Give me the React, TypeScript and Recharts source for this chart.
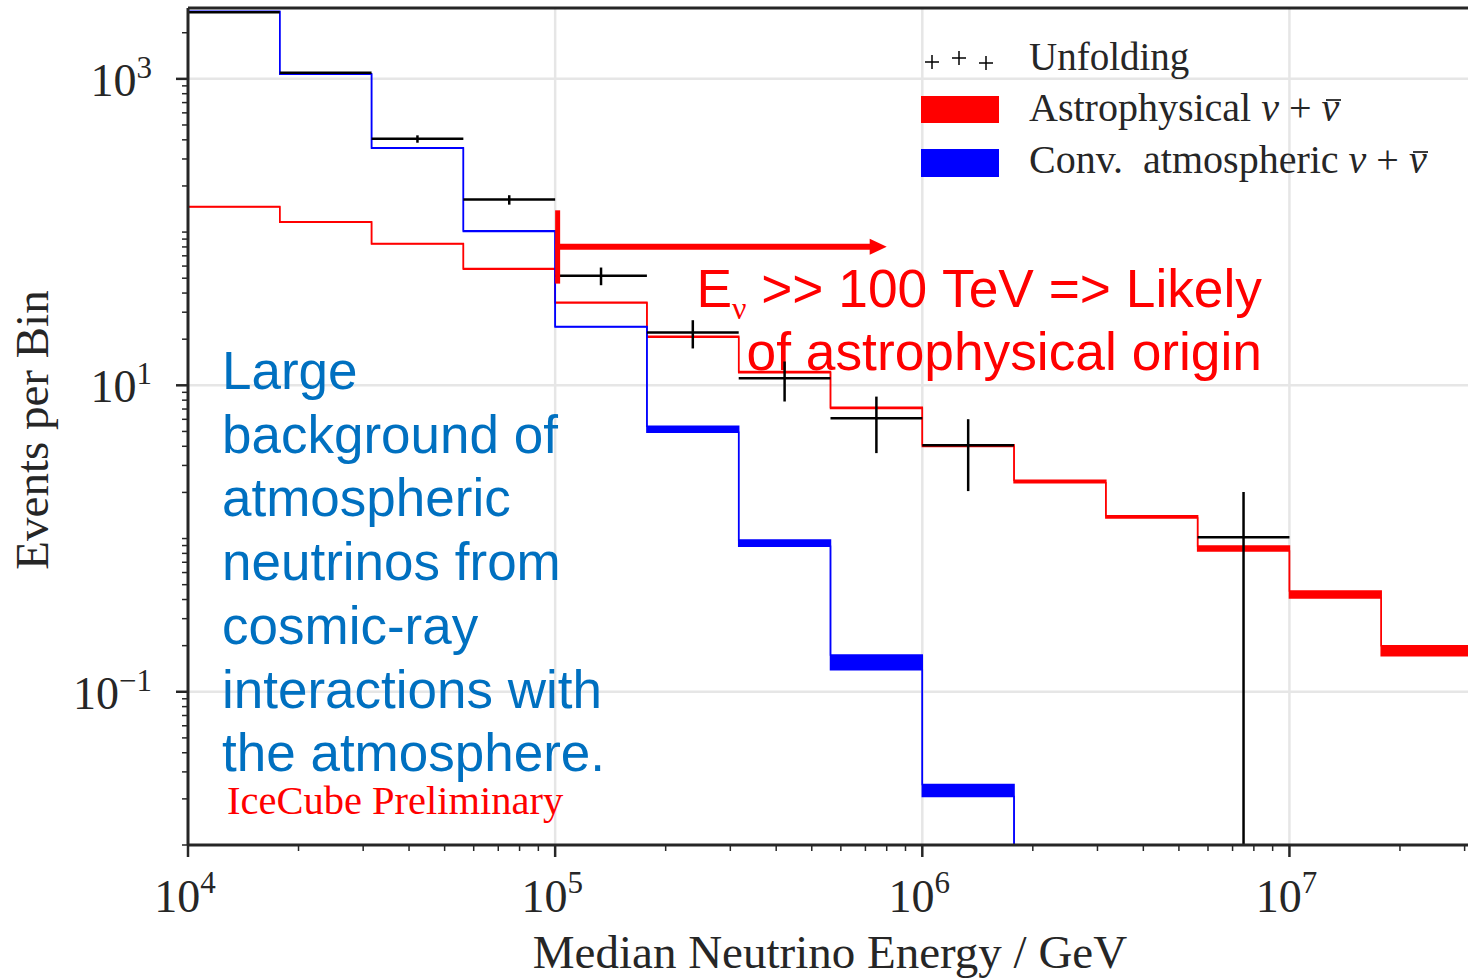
import React from 'react';
import {
  ComposedChart,
  Area,
  Scatter,
  ErrorBar,
  XAxis,
  YAxis,
  CartesianGrid,
  ReferenceLine,
} from 'recharts';

// ---------- data ----------
const binEdges = [
  1.0e4, 1.778e4, 3.162e4, 5.623e4, 1.0e5, 1.778e5, 3.162e5, 5.623e5, 1.0e6,
  1.778e6, 3.162e6, 5.623e6, 1.0e7, 1.778e7, 3.162e7,
];

// Astrophysical nu + nubar (band low / high per bin)
const astroLow = [146, 116, 83.5, 57.3, 34.4, 20.6, 12.1, 7.05, 3.98, 2.31, 1.36, 0.83, 0.409, 0.172];
const astroHigh = [147, 117, 84.1, 57.8, 34.8, 20.9, 12.3, 7.19, 4.1, 2.4, 1.41, 0.893, 0.455, 0.2];

// Conventional atmospheric nu + nubar (band low / high per bin)
const convLow = [2740, 1070, 352, 101, 24.0, 4.94, 0.89, 0.139, 0.0207, 0.0001, 0.0001, 0.0001, 0.0001, 0.0001];
const convHigh = [2760, 1080, 355, 102, 24.2, 5.41, 0.98, 0.174, 0.0248, 0.0001, 0.0001, 0.0001, 0.0001, 0.0001];

// Unfolding points (bin index, value, lower, upper)
const unfoldBins = [0, 1, 2, 3, 4, 5, 6, 7, 8, 11];
const unfoldValue = [2716, 1094, 406, 163, 51.9, 22.1, 11.1, 6.1, 4.06, 1.02];
const unfoldLower = [2690, 1082, 383, 151, 45.0, 17.4, 7.84, 3.61, 2.04, 0.01];
const unfoldUpper = [2745, 1108, 428, 174, 58.7, 26.6, 14.3, 8.44, 6.01, 2.01];

// Axis ticks
const xMajorTicks = [1e4, 1e5, 1e6, 1e7];
const xMajorExp = ['4', '5', '6', '7'];
const xDecades = [1e4, 1e5, 1e6, 1e7];
const yMajorTicks = [0.1, 10, 1000];
const yMajorExp = ['\u22121', '1', '3'];
const yDecades = [0.01, 0.1, 1, 10, 100, 1000];
const mantissas = [1, 2, 3, 4, 5, 6, 7, 8, 9];

const X_MIN = 1e4;
const X_MAX = 3.162e7;
const Y_MIN = 0.01;
const Y_MAX = 2900;

const xTicks: number[] = [];
xDecades.forEach((d) => mantissas.forEach((m) => {
  const v = +(m * d).toPrecision(6);
  if (v >= X_MIN && v <= X_MAX) xTicks.push(v);
}));
const yTicks: number[] = [];
yDecades.forEach((d) => mantissas.forEach((m) => {
  const v = +(m * d).toPrecision(6);
  if (v >= Y_MIN && v <= Y_MAX) yTicks.push(v);
}));

// ---------- derived series tables ----------
const stepData = (lo: number[], hi: number[]) =>
  binEdges.map((e, i) => {
    const j = Math.min(i, lo.length - 1);
    return { e, range: [lo[j], hi[j]] };
  });

const astroData = stepData(astroLow, astroHigh);
const convData = stepData(convLow, convHigh);

const unfoldData = unfoldBins.map((b, k) => {
  const lo = binEdges[b];
  const hi = binEdges[b + 1];
  const c = Math.sqrt(lo * hi);
  return {
    e: c,
    v: unfoldValue[k],
    ex: [c - lo, hi - c],
    ey: [unfoldValue[k] - unfoldLower[k], unfoldUpper[k] - unfoldValue[k]],
  };
});

// ---------- styles ----------
const AXIS = '#262626';
const SERIF = '"Liberation Serif", "DejaVu Serif", serif';
const SANS = '"Liberation Sans", Arial, sans-serif';

const XTick = (props: any) => {
  const { x, y, payload } = props;
  const idx = xMajorTicks.indexOf(payload.value);
  const major = idx >= 0;
  return (
    <g>
      <line x1={x} x2={x} y1={y} y2={y + (major ? 12 : 6)} stroke={AXIS} strokeWidth={major ? 2.5 : 1.5} />
      {major && (
        <text x={x - 3} y={y + 67} textAnchor="middle" fontFamily={SERIF} fontSize={46} fill={AXIS}>
          10<tspan fontSize={31} dy={-19}>{xMajorExp[idx]}</tspan>
        </text>
      )}
    </g>
  );
};

const YTick = (props: any) => {
  const { x, y, payload } = props;
  const idx = yMajorTicks.indexOf(payload.value);
  const major = idx >= 0;
  return (
    <g>
      <line x1={x - (major ? 12 : 6)} x2={x} y1={y} y2={y} stroke={AXIS} strokeWidth={major ? 2.5 : 1.5} />
      {major && (
        <text x={x - 36} y={y + 17} textAnchor="end" fontFamily={SERIF} fontSize={46} fill={AXIS}>
          10<tspan fontSize={31} dy={-18}>{yMajorExp[idx]}</tspan>
        </text>
      )}
    </g>
  );
};

const ArrowShape = (p: any) => {
  const { x1, y1, x2, y2 } = p;
  return (
    <g>
      <line x1={x1} y1={y1} x2={x2 - 14} y2={y2} stroke="#FF0000" strokeWidth={6} />
      <polygon points={`${x2},${y2} ${x2 - 17},${y2 - 8} ${x2 - 17},${y2 + 8}`} fill="#FF0000" />
    </g>
  );
};

const BarShape = (p: any) => {
  const { x1, y1, x2, y2 } = p;
  return <line x1={x1 + 2.5} y1={y1} x2={x2 + 2.5} y2={y2} stroke="#FF0000" strokeWidth={5} />;
};

const blueLines = [
  'Large',
  'background of',
  'atmospheric',
  'neutrinos from',
  'cosmic-ray',
  'interactions with',
  'the atmosphere.',
];

const Cross = ({ cx, cy }: { cx: number; cy: number }) => (
  <g stroke="#000" strokeWidth={1.5}>
    <line x1={cx - 7} x2={cx + 7} y1={cy} y2={cy} />
    <line x1={cx} x2={cx} y1={cy - 7} y2={cy + 7} />
  </g>
);

export default function App() {
  return (
    <div style={{ position: 'absolute', left: 0, top: 0, width: 1468, height: 979, overflow: 'hidden', background: '#fff' }}>
      <ComposedChart width={1473} height={979} margin={{ top: 8, right: 0, bottom: 0, left: 0 }}>
        <CartesianGrid
          horizontalValues={yMajorTicks}
          verticalValues={[1e5, 1e6, 1e7]}
          stroke="#E6E6E6"
          strokeWidth={2.5}
        />
        <XAxis
          dataKey="e"
          type="number"
          scale="log"
          domain={[X_MIN, X_MAX]}
          allowDataOverflow
          ticks={xTicks}
          interval={0}
          tick={<XTick />}
          tickLine={false}
          tickSize={0}
          tickMargin={0}
          height={134}
          axisLine={{ stroke: AXIS, strokeWidth: 3 }}
        />
        <YAxis
          type="number"
          scale="log"
          domain={[Y_MIN, Y_MAX]}
          allowDataOverflow
          ticks={yTicks}
          interval={0}
          tick={<YTick />}
          tickLine={false}
          tickSize={0}
          tickMargin={0}
          width={188}
          axisLine={{ stroke: AXIS, strokeWidth: 3 }}
        />
        <ReferenceLine y={Y_MAX} stroke={AXIS} strokeWidth={3} />
        <Area
          data={astroData}
          dataKey="range"
          type="stepAfter"
          stroke="#FF0000"
          strokeWidth={1.5}
          fill="#FF0000"
          fillOpacity={1}
          isAnimationActive={false}
          dot={false}
          activeDot={false}
        />
        <Area
          data={convData}
          dataKey="range"
          type="stepAfter"
          stroke="#0000FF"
          strokeWidth={1.5}
          fill="#0000FF"
          fillOpacity={1}
          isAnimationActive={false}
          dot={false}
          activeDot={false}
        />
        <Scatter data={unfoldData} dataKey="v" isAnimationActive={false} shape={() => <g />}>
          <ErrorBar dataKey="ex" direction="x" width={0} stroke="#000" strokeWidth={2.5} isAnimationActive={false} />
          <ErrorBar dataKey="ey" direction="y" width={0} stroke="#000" strokeWidth={2.5} isAnimationActive={false} />
        </Scatter>
        <ReferenceLine
          segment={[{ x: 1e5, y: 46.1 }, { x: 1e5, y: 138.7 }]}
          stroke="#FF0000"
          shape={BarShape}
        />
        <ReferenceLine
          segment={[{ x: 1e5, y: 80.2 }, { x: 8.0e5, y: 80.2 }]}
          stroke="#FF0000"
          shape={ArrowShape}
        />

        {/* axis labels */}
        <text x={830} y={968} textAnchor="middle" fontFamily={SERIF} fontSize={47} fill={AXIS}>
          Median Neutrino Energy / GeV
        </text>
        <text
          x={48}
          y={430}
          textAnchor="middle"
          transform="rotate(-90 48 430)"
          fontFamily={SERIF}
          fontSize={47}
          fill={AXIS}
        >
          Events per Bin
        </text>

        {/* legend */}
        <Cross cx={932} cy={62} />
        <Cross cx={959} cy={58} />
        <Cross cx={986} cy={63} />
        <text x={1029} y={70} fontFamily={SERIF} fontSize={39} fill={AXIS}>Unfolding</text>
        <rect x={921} y={96} width={78} height={27} fill="#FF0000" />
        <text x={1029} y={121} fontFamily={SERIF} fontSize={40} fill={AXIS}>
          Astrophysical <tspan fontStyle="italic">ν</tspan> + <tspan fontStyle="italic">ν</tspan>
        </text>
        <line x1={1326} x2={1341} y1={100} y2={100} stroke={AXIS} strokeWidth={1.8} />
        <rect x={921} y={149} width={78} height={28} fill="#0000FF" />
        <text x={1029} y={173} fontFamily={SERIF} fontSize={40} fill={AXIS} style={{ whiteSpace: 'pre' }}>
          Conv.  atmospheric <tspan fontStyle="italic">ν</tspan> + <tspan fontStyle="italic">ν</tspan>
        </text>
        <line x1={1413} x2={1428} y1={152} y2={152} stroke={AXIS} strokeWidth={1.8} />

        {/* red annotation */}
        <text x={1262} y={307} textAnchor="end" fontFamily={SANS} fontSize={53.3} fill="#FF0000">
          E<tspan fontFamily={SERIF} fontSize={32} dy={12}>ν</tspan>
          <tspan dy={-12}>{' >> 100 TeV => Likely'}</tspan>
        </text>
        <text x={1262} y={370} textAnchor="end" fontFamily={SANS} fontSize={53.3} fill="#FF0000">
          of astrophysical origin
        </text>

        {/* blue annotation */}
        {blueLines.map((t, i) => (
          <text key={t} x={222} y={389 + i * 63.7} fontFamily={SANS} fontSize={53} fill="#0070C0">
            {t}
          </text>
        ))}
        <text x={227} y={814} fontFamily={SERIF} fontSize={40.5} fill="#FF0000">IceCube Preliminary</text>
      </ComposedChart>
    </div>
  );
}
